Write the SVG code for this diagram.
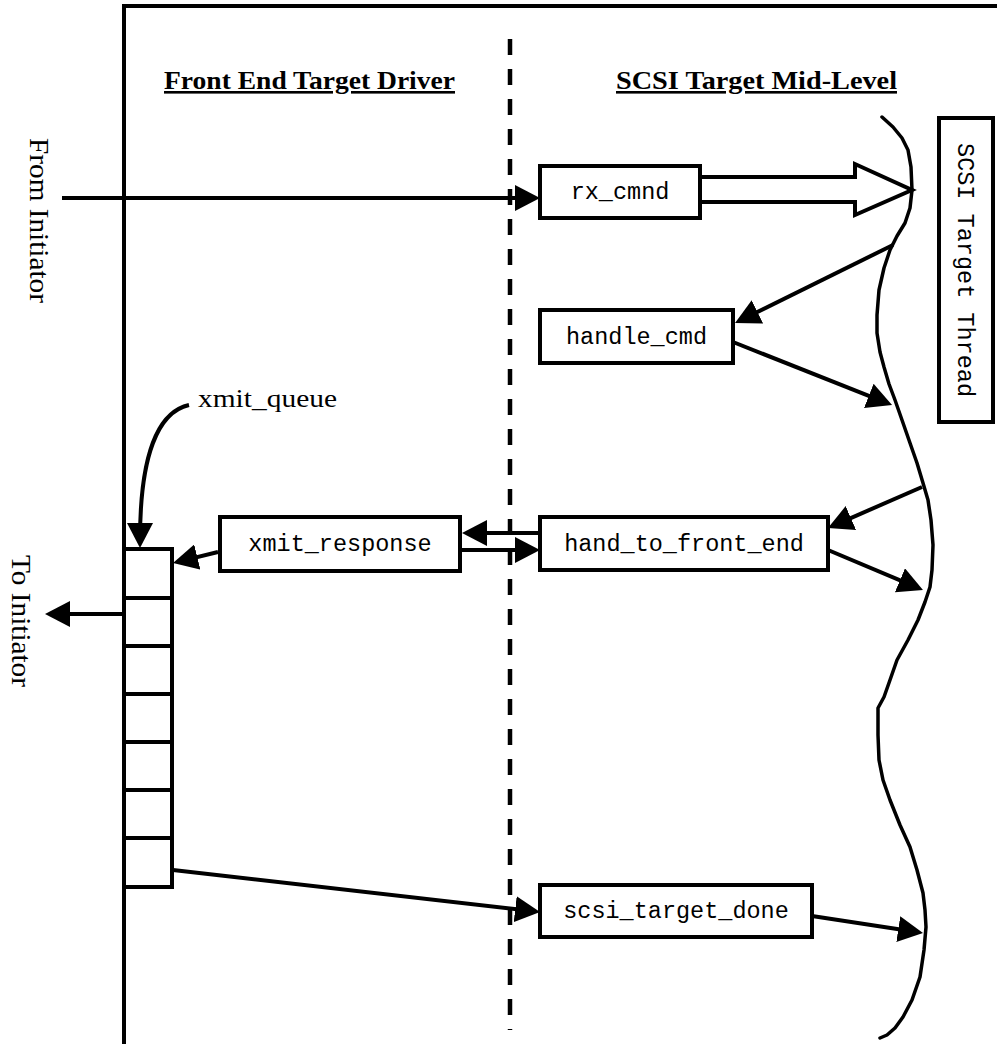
<svg xmlns="http://www.w3.org/2000/svg" width="997" height="1044" viewBox="0 0 997 1044">
  <style>
    .ln { stroke:#000; stroke-width:4; fill:none; }
    .ar { stroke:#000; stroke-width:4; fill:none; marker-end:url(#ah); }
    .box { fill:#fff; stroke:#000; stroke-width:4; }
    .mono { font-family:"Liberation Mono", "DejaVu Sans Mono", monospace; font-size:23.5px; text-anchor:middle; fill:#000; }
    .hdr { font-family:"Liberation Serif", "DejaVu Serif", serif; font-size:26px; font-weight:bold; text-anchor:middle; text-decoration:underline; fill:#000; }
    .lbl { font-family:"Liberation Serif", "DejaVu Serif", serif; font-size:27px; text-anchor:middle; fill:#000; }
  </style>
  <defs>
    <marker id="ah" markerUnits="userSpaceOnUse" markerWidth="26" markerHeight="26" refX="17" refY="13" orient="auto">
      <path d="M0,0 L25,13 L0,26 Z" fill="#000"/>
    </marker>
  </defs>

  <rect width="997" height="1044" fill="#fff"/>

  <!-- frame and domain divider -->
  <g id="frame">
    <path class="ln" d="M124,1044 V6 H997"/>
    <line x1="510" y1="39" x2="510" y2="1030" stroke="#000" stroke-width="4.5" stroke-dasharray="16 14"/>
  </g>

  <!-- thread boundary -->
  <g id="thread-line">
    <polyline fill="none" stroke="#000" stroke-width="3.5" stroke-linejoin="round" stroke-linecap="round"
      points="882,117 893,127 902,138 908,150 911,167 912,190 910,208 905,223 897,236 890,250 884,268 879,290 877,315 877,333 880,352 884,367 889,384 895,400 902,420 910,443 917,463 923,483 928,500 931,520 933,545 932,570 930,587 925,602 918,620 908,640 897,660 890,680 884,697 878,708 878,735 879,760 883,780 890,800 900,825 910,847 917,870 923,893 925,910 926,927 924,950 920,977 912,1000 903,1017 895,1028 887,1035 880,1038"/>
  </g>

  <!-- section headings -->
  <g id="headings">
    <text class="hdr" x="309.5" y="89" textLength="291" lengthAdjust="spacingAndGlyphs">Front End Target Driver</text>
    <text class="hdr" x="756.5" y="89" textLength="281" lengthAdjust="spacingAndGlyphs">SCSI Target Mid-Level</text>
  </g>

  <!-- side labels -->
  <g id="from-initiator">
    <text class="lbl" transform="translate(30,220.5) rotate(90)" textLength="165" lengthAdjust="spacingAndGlyphs">From Initiator</text>
  </g>
  <g id="to-initiator">
    <text class="lbl" transform="translate(12,621) rotate(90)" textLength="132" lengthAdjust="spacingAndGlyphs">To Initiator</text>
  </g>

  <!-- connectors -->
  <g id="connectors">
    <line class="ar" x1="62" y1="198" x2="532" y2="198"/>
    <polygon points="700,177 855,177 855,164 912,190 855,215 855,202 700,202" fill="#fff" stroke="#000" stroke-width="4" stroke-linejoin="miter"/>
    <line class="ar" x1="893" y1="245" x2="742.2" y2="319.5"/>
    <line class="ar" x1="733" y1="342" x2="884.6" y2="402.1"/>
    <line class="ar" x1="922" y1="487" x2="835.3" y2="524.8"/>
    <line class="ar" x1="828" y1="550" x2="915.6" y2="586.9"/>
    <line class="ar" x1="540" y1="533" x2="470" y2="533"/>
    <line class="ar" x1="462" y1="550" x2="532" y2="550"/>
    <line class="ar" x1="218" y1="552" x2="180.8" y2="561.1"/>
    <path class="ar" d="M189,405 C158,412 140,455 140,540"/>
    <line class="ar" x1="124" y1="614" x2="53" y2="614"/>
    <line class="ar" x1="173" y1="870" x2="532.1" y2="911.1"/>
    <line class="ar" x1="812" y1="916" x2="915.1" y2="931.8"/>
  </g>

  <!-- nodes -->
  <g id="rx_cmnd">
    <rect class="box" x="540" y="166" width="160" height="52"/>
    <text class="mono" x="620" y="199">rx_cmnd</text>
  </g>
  <g id="handle_cmd">
    <rect class="box" x="540" y="310" width="193" height="53"/>
    <text class="mono" x="636.5" y="344">handle_cmd</text>
  </g>
  <g id="xmit_response">
    <rect class="box" x="220" y="517" width="240" height="54"/>
    <text class="mono" x="340" y="551">xmit_response</text>
  </g>
  <g id="hand_to_front_end">
    <rect class="box" x="540" y="517" width="288" height="53"/>
    <text class="mono" x="684" y="551">hand_to_front_end</text>
  </g>
  <g id="scsi_target_done">
    <rect class="box" x="540" y="885" width="272" height="52"/>
    <text class="mono" x="676" y="918">scsi_target_done</text>
  </g>
  <g id="scsi_target_thread">
    <rect class="box" x="939" y="118" width="54" height="304"/>
    <text class="mono" transform="translate(958,270) rotate(90)" textLength="254" lengthAdjust="spacingAndGlyphs">SCSI Target Thread</text>
  </g>
  <g id="xmit_queue">
    <rect class="box" x="124" y="549" width="48" height="338"/>
    <path class="ln" d="M124,598 H172 M124,646 H172 M124,694 H172 M124,742 H172 M124,790 H172 M124,838 H172"/>
    <text x="198" y="407" font-family="Liberation Serif, DejaVu Serif, serif" font-size="26" textLength="139" lengthAdjust="spacingAndGlyphs">xmit_queue</text>
  </g>
</svg>
